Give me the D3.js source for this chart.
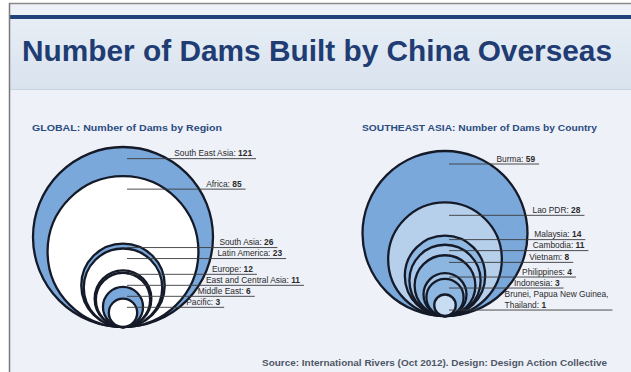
<!DOCTYPE html>
<html>
<head>
<meta charset="utf-8">
<script src="https://cdnjs.cloudflare.com/ajax/libs/d3/7.8.5/d3.min.js"></script>
<style>
  html, body { margin: 0; padding: 0; background: #ffffff; }
  svg { display: block; font-family: "Liberation Sans", Arial, Helvetica, sans-serif; }
</style>
</head>
<body>
<svg id="chart" width="631" height="372"></svg>
<script>
// ---------------- DATA ----------------
const chartTitle = "Number of Dams Built by China Overseas";
const globalTitle = "GLOBAL: Number of Dams by Region";
const globalRegions = ["South East Asia", "Africa", "South Asia", "Latin America", "Europe", "East and Central Asia", "Middle East", "Pacific"];
const globalValues = [121, 85, 26, 23, 12, 11, 6, 3];
const seaTitle = "SOUTHEAST ASIA: Number of Dams by Country";
const seaCountries = ["Burma", "Lao PDR", "Malaysia", "Cambodia", "Vietnam", "Philippines", "Indonesia", "Brunei, Papua New Guinea, Thailand"];
const seaValues = [59, 28, 14, 11, 8, 4, 3, 1];
const sourceText = "Source: International Rivers (Oct 2012). Design: Design Action Collective";

// ---------------- STYLE ----------------
const globalFills = ["#7ba8da", "#ffffff", "#7ba8da", "#ffffff", "#ffffff", "#ffffff", "#7ba8da", "#ffffff"];
const seaFills = ["#7ba8da", "#b6cfeb", "#8fb8e2", "#a9c8ea", "#8cb5e0", "#a6c6e8", "#8db6e0", "#c8ddf2"];

const W = 631, H = 372;
const svg = d3.select("#chart");

// background & frame
svg.append("rect").attr("x", 0).attr("y", 0).attr("width", W).attr("height", H).attr("fill", "#ffffff");
svg.append("rect").attr("x", 9).attr("y", 3).attr("width", W - 9).attr("height", H - 3).attr("fill", "#eef1f8");
const defs = svg.append("defs");
const grad = defs.append("linearGradient").attr("id", "band").attr("x1", 0).attr("y1", 0).attr("x2", 0).attr("y2", 1);
grad.append("stop").attr("offset", "0%").attr("stop-color", "#e6edf5");
grad.append("stop").attr("offset", "100%").attr("stop-color", "#d9e3ee");
svg.append("rect").attr("x", 9).attr("y", 19).attr("width", W - 9).attr("height", 70).attr("fill", "url(#band)");
svg.append("line").attr("x1", 9).attr("x2", W).attr("y1", 89.5).attr("y2", 89.5).attr("stroke", "#c9d4e2").attr("stroke-width", 1);
svg.append("rect").attr("x", 9).attr("y", 15).attr("width", W - 9).attr("height", 4).attr("fill", "#22427c");
svg.append("line").attr("x1", 9).attr("x2", W).attr("y1", 3.5).attr("y2", 3.5).attr("stroke", "#8a8a8a").attr("stroke-width", 1.5);
svg.append("line").attr("x1", 9.5).attr("x2", 9.5).attr("y1", 3).attr("y2", H).attr("stroke", "#7a7a7a").attr("stroke-width", 1.5);

// title
svg.append("text").attr("x", 22).attr("y", 61)
  .attr("font-size", 30).attr("font-weight", "bold").attr("fill", "#1f3c73")
  .attr("textLength", 590).attr("lengthAdjust", "spacingAndGlyphs")
  .text(chartTitle);

// source
svg.append("text").attr("x", 262).attr("y", 366)
  .attr("font-size", 8.3).attr("font-weight", "bold").attr("fill", "#4f5766")
  .attr("textLength", 345).attr("lengthAdjust", "spacingAndGlyphs")
  .text(sourceText);

const LABEL_FS = 8.4;
const measurer = svg.append("text").attr("font-size", LABEL_FS).attr("visibility", "hidden");
function measure(s) { measurer.text(s); return measurer.node().getComputedTextLength(); }

function drawPanel(names, values, fills, opts) {
  const g = svg.append("g");
  g.append("text").attr("x", opts.titleX).attr("y", 131)
    .attr("font-size", 9).attr("font-weight", "bold").attr("fill", "#2b4c80")
    .attr("textLength", opts.titleLen).attr("lengthAdjust", "spacingAndGlyphs")
    .text(opts.title);

  const r = d3.scaleSqrt().domain([0, d3.max(values)]).range([0, opts.rMax]);
  const data = names.map((n, i) => ({ name: n, value: values[i], fill: fills[i] }));

  g.selectAll("circle.bubble").data(data).join("circle")
    .attr("class", "bubble")
    .attr("cx", opts.cx)
    .attr("cy", d => opts.bottom - r(d.value))
    .attr("r", d => r(d.value))
    .attr("fill", d => d.fill)
    .attr("stroke", "#151a28")
    .attr("stroke-width", 2.3);

  // label layout derived from the circles
  const outerR = r(d3.max(values));
  const outerCy = opts.bottom - outerR;
  const edge = y => { const dy = y - outerCy; return opts.cx + Math.sqrt(Math.max(0, outerR * outerR - dy * dy)); };
  let prev = -Infinity;
  data.forEach((d, i) => {
    const top = opts.bottom - 2 * r(d.value);
    const nextTop = i < data.length - 1 ? opts.bottom - 2 * r(data[i + 1].value) : top + r(d.value);
    const off = Math.max(4, Math.min(13, (nextTop - top) * 0.4));
    let yLine = Math.max(top + off, prev + 11);
    let x = edge(yLine) + 7;
    const words = `${d.name}: ${d.value}`.split(" ");
    const maxW = W - 8 - x;
    const lines = [];
    let cur = [];
    words.forEach(w => {
      const test = cur.concat(w).join(" ");
      if (measure(test) > maxW && cur.length) { lines.push(cur); cur = [w]; }
      else cur.push(w);
    });
    lines.push(cur);
    if (lines.length > 1) {
      yLine = Math.max(top + off, prev + 11 * lines.length);
      x = edge(yLine - (lines.length - 1) * 13) + 7;
    }
    prev = yLine;
    let maxLineW = 0;
    lines.forEach((ln, li) => {
      const isLast = li === lines.length - 1;
      const t = g.append("text").attr("x", x)
        .attr("y", yLine - 2.5 - (lines.length - 1 - li) * 10.5)
        .attr("font-size", LABEL_FS).attr("fill", "#2a2a2a");
      if (isLast) {
        t.append("tspan").text(ln.slice(0, -1).join(" ") + " ");
        t.append("tspan").attr("font-weight", "bold").text(ln[ln.length - 1]);
      } else {
        t.text(ln.join(" "));
      }
      maxLineW = Math.max(maxLineW, t.node().getComputedTextLength());
    });
    g.append("line")
      .attr("x1", opts.cx + 4).attr("x2", x + maxLineW + 4)
      .attr("y1", yLine).attr("y2", yLine)
      .attr("stroke", "#3a3a3a").attr("stroke-width", 0.9);
  });
}

drawPanel(globalRegions, globalValues, globalFills, {
  title: globalTitle, titleX: 32, titleLen: 190, cx: 123, bottom: 327, rMax: 90
});
drawPanel(seaCountries, seaValues, seaFills, {
  title: seaTitle, titleX: 362, titleLen: 235, cx: 445, bottom: 316, rMax: 82.5
});
measurer.remove();
</script>
</body>
</html>
